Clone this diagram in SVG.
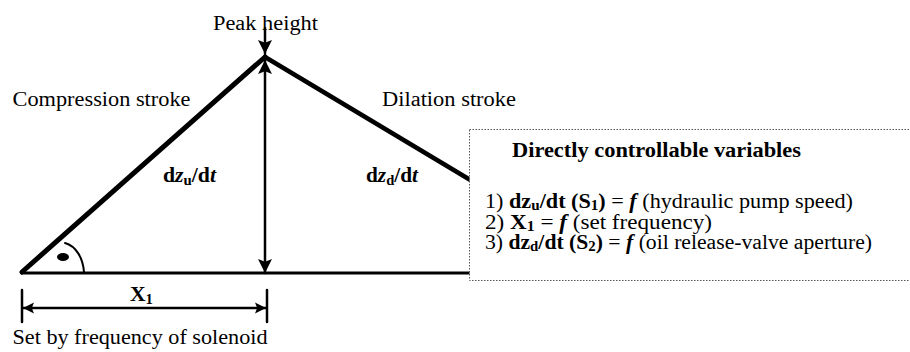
<svg xmlns="http://www.w3.org/2000/svg" width="910" height="352" viewBox="0 0 910 352" font-family="'Liberation Serif', 'DejaVu Serif', serif">
<style>
text{font-family:'Liberation Serif','DejaVu Serif',serif;font-size:20.5px;fill:#000}
.b{font-weight:bold}
.bi{font-weight:bold;font-style:italic}
.s{font-size:14px}
.ln{stroke:#000;fill:none;stroke-linecap:round}
</style>
<defs>
<marker id="ah" viewBox="0 0 10 10" refX="10" refY="5" markerWidth="14" markerHeight="14" markerUnits="userSpaceOnUse" orient="auto-start-reverse">
<path d="M0,0 L10,5 L0,10 L2,5 z" fill="#000"/>
</marker>
<marker id="ahs" viewBox="0 0 10 10" refX="10" refY="5" markerWidth="11" markerHeight="12" markerUnits="userSpaceOnUse" orient="auto-start-reverse">
<path d="M0,0 L10,5 L0,10 L2,5 z" fill="#000"/>
</marker>
</defs>
<rect width="910" height="352" fill="#fff"/>
<g id="connectors">
<line class="ln" x1="22" y1="273" x2="470" y2="273" stroke-width="3"/>
<line class="ln" x1="22" y1="272" x2="265" y2="57" stroke-width="5"/>
<line class="ln" x1="265" y1="57" x2="472" y2="181" stroke-width="4.5"/>
<line class="ln" x1="265" y1="60" x2="265" y2="273" stroke-width="2.5" marker-start="url(#ah)" marker-end="url(#ah)"/>
<line class="ln" x1="265" y1="28" x2="265" y2="54" stroke-width="2.5" marker-end="url(#ah)"/>
<line class="ln" x1="23" y1="308" x2="266" y2="308" stroke-width="2.5" marker-start="url(#ahs)" marker-end="url(#ahs)"/>
<line class="ln" x1="22" y1="290" x2="22" y2="322" stroke-width="2.5"/>
<line class="ln" x1="267" y1="290" x2="267" y2="322" stroke-width="2.5"/>
<path class="ln" d="M84,272 C83,258 76,246 65,243" stroke-width="2"/>
<ellipse cx="63" cy="257" rx="6" ry="4" fill="#000"/>
</g>
<g id="peak-label"><text x="213" y="30" textLength="105" lengthAdjust="spacingAndGlyphs">Peak height</text></g>
<g id="compression-label"><text x="12.5" y="106" textLength="178" lengthAdjust="spacingAndGlyphs">Compression stroke</text></g>
<g id="dilation-label"><text x="382" y="106" textLength="134" lengthAdjust="spacingAndGlyphs">Dilation stroke</text></g>
<g id="dzu-label"><text x="163" y="182" class="b" textLength="53" lengthAdjust="spacingAndGlyphs">d<tspan class="bi">z</tspan><tspan class="s" dy="3">u</tspan><tspan dy="-3">/d</tspan><tspan class="bi">t</tspan></text></g>
<g id="dzd-label"><text x="366" y="182" class="b" textLength="52" lengthAdjust="spacingAndGlyphs">d<tspan class="bi">z</tspan><tspan class="s" dy="3">d</tspan><tspan dy="-3">/d</tspan><tspan class="bi">t</tspan></text></g>
<g id="x1-label"><text x="130" y="301" class="b" textLength="23" lengthAdjust="spacingAndGlyphs">X<tspan class="s" dy="3">1</tspan></text></g>
<g id="solenoid-label"><text x="12.5" y="344" textLength="255" lengthAdjust="spacingAndGlyphs">Set by frequency of solenoid</text></g>
<g id="variables-box">
<rect x="469.5" y="129.5" width="450" height="151" fill="#fff" stroke="#555" stroke-width="1" stroke-dasharray="1.5,1.5"/>
<text x="512" y="157" class="b" textLength="289" lengthAdjust="spacingAndGlyphs">Directly controllable variables</text>
<text x="485" y="208" textLength="368" lengthAdjust="spacingAndGlyphs">1) <tspan class="b">dz</tspan><tspan class="b s" dy="2">u</tspan><tspan class="b" dy="-2">/dt (S</tspan><tspan class="b s" dy="2">1</tspan><tspan class="b" dy="-2">)</tspan> = <tspan class="bi">f</tspan> (hydraulic pump speed)</text>
<text x="485" y="229" textLength="227" lengthAdjust="spacingAndGlyphs">2) <tspan class="b">X</tspan><tspan class="b s" dy="2">1</tspan><tspan dy="-2"> = </tspan><tspan class="bi">f</tspan> (set frequency)</text>
<text x="485" y="249" textLength="387" lengthAdjust="spacingAndGlyphs">3) <tspan class="b">dz</tspan><tspan class="b s" dy="2">d</tspan><tspan class="b" dy="-2">/dt (S</tspan><tspan class="b s" dy="2">2</tspan><tspan class="b" dy="-2">)</tspan> = <tspan class="bi">f</tspan> (oil release-valve aperture)</text>
</g>
</svg>
